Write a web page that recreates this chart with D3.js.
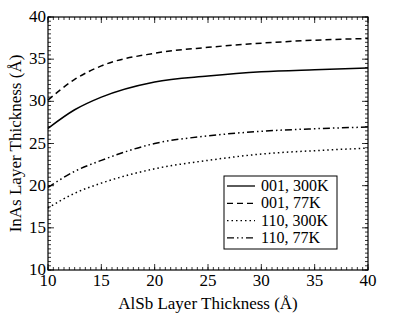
<script src="https://cdn.jsdelivr.net/npm/d3@7"></script>
<style>
  body { margin: 0; background: #fff; }
  text { font-family: "Liberation Serif", "DejaVu Serif", serif; }
</style>
<div id="chart"></div>
<script>
// AlSb thickness (x) vs InAs thickness (y)
var xs = [10, 12.5, 15, 20, 25, 30, 35, 40];
var s001_300 = [26.8, 29.0, 30.5, 32.3, 33.0, 33.5, 33.75, 33.95];
var s001_77  = [30.15, 32.6, 34.2, 35.7, 36.4, 36.9, 37.25, 37.45];
var s110_300 = [17.35, 19.1, 20.3, 22.0, 23.0, 23.75, 24.15, 24.45];
var s110_77  = [19.8, 21.7, 23.0, 25.0, 25.9, 26.45, 26.75, 26.95];
var labels = ["001, 300K", "001, 77K", "110, 300K", "110, 77K"];
var dashes = [null, "6,4", "1.5,3", "7,3,1.5,3,1.5,3"];
var xTicks = [10, 15, 20, 25, 30, 35, 40];
var yTicks = [10, 15, 20, 25, 30, 35, 40];

var W = 415, H = 321;
var margin = {top: 17, right: 47, bottom: 51, left: 48};
var width = W - margin.left - margin.right,
    height = H - margin.top - margin.bottom;

var svg = d3.select("#chart").append("svg")
    .attr("width", W).attr("height", H);
var g = svg.append("g")
    .attr("transform", "translate(" + margin.left + "," + margin.top + ")");

var x = d3.scaleLinear().domain([10, 40]).range([0, width]);
var y = d3.scaleLinear().domain([10, 40]).range([height, 0]);

var minor = d3.range(10, 40.01, 0.5);

// ticks on all four sides, pointing inward
function tickSet(vals, len) {
  vals.forEach(function(v) {
    g.append("line").attr("x1", x(v)).attr("x2", x(v)).attr("y1", height).attr("y2", height - len)
      .attr("stroke", "#000").attr("stroke-width", 0.8);
    g.append("line").attr("x1", x(v)).attr("x2", x(v)).attr("y1", 0).attr("y2", len)
      .attr("stroke", "#000").attr("stroke-width", 0.8);
    g.append("line").attr("y1", y(v)).attr("y2", y(v)).attr("x1", 0).attr("x2", len)
      .attr("stroke", "#000").attr("stroke-width", 0.8);
    g.append("line").attr("y1", y(v)).attr("y2", y(v)).attr("x1", width).attr("x2", width - len)
      .attr("stroke", "#000").attr("stroke-width", 0.8);
  });
}
tickSet(minor, 3);
tickSet(xTicks, 6);

g.append("rect").attr("width", width).attr("height", height)
  .attr("fill", "none").attr("stroke", "#000").attr("stroke-width", 1.2);

g.selectAll(".xl").data(xTicks).enter().append("text")
  .attr("x", function(d) { return x(d); }).attr("y", height + 16)
  .attr("text-anchor", "middle").style("font-size", "17px").text(function(d) { return d; });
g.selectAll(".yl").data(yTicks).enter().append("text")
  .attr("x", -2).attr("y", function(d) { return y(d) + 5; })
  .attr("text-anchor", "end").style("font-size", "17px").text(function(d) { return d; });

svg.append("text").attr("x", margin.left + width / 2).attr("y", H - 12)
  .attr("text-anchor", "middle").style("font-size", "17px").text("AlSb Layer Thickness (Å)");
svg.append("text")
  .attr("transform", "translate(21," + (margin.top + height / 2) + ") rotate(-90)")
  .attr("text-anchor", "middle").style("font-size", "17px").text("InAs Layer Thickness (Å)");

var series = [s001_300, s001_77, s110_300, s110_77];
var line = d3.line()
  .x(function(d, i) { return x(xs[i]); })
  .y(function(d) { return y(d); })
  .curve(d3.curveMonotoneX);

series.forEach(function(s, i) {
  g.append("path").attr("d", line(s))
    .attr("fill", "none").attr("stroke", "#000").attr("stroke-width", 1.5)
    .attr("stroke-dasharray", dashes[i]);
});

// legend
var lg = svg.append("g").attr("transform", "translate(224,176)");
lg.append("rect").attr("width", 113).attr("height", 73)
  .attr("fill", "#fff").attr("stroke", "#000").attr("stroke-width", 1);
labels.forEach(function(l, i) {
  var yy = 10 + i * 17.3;
  lg.append("line").attr("x1", 3).attr("x2", 31).attr("y1", yy).attr("y2", yy)
    .attr("stroke", "#000").attr("stroke-width", 1.3).attr("stroke-dasharray", dashes[i]);
  lg.append("text").attr("x", 37).attr("y", yy + 5).style("font-size", "16px").text(l);
});
</script>
